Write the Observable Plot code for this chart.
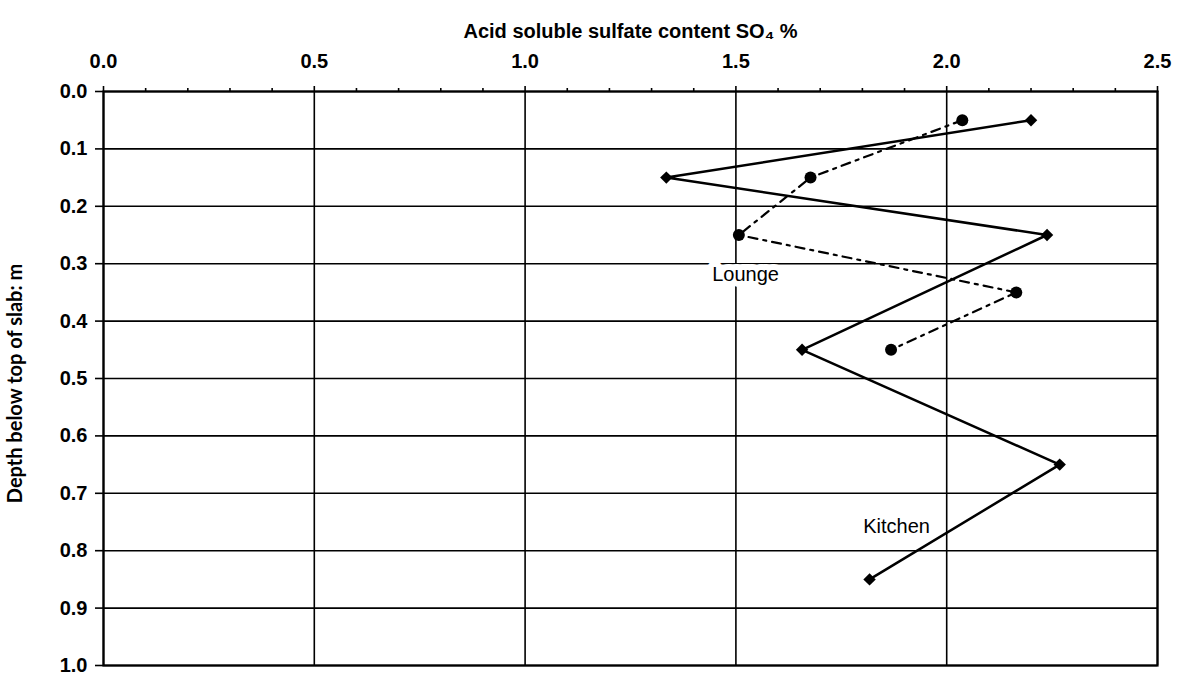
<!DOCTYPE html>
<html>
<head>
<meta charset="utf-8">
<script src="https://cdn.jsdelivr.net/npm/d3@7"></script>
<script src="https://cdn.jsdelivr.net/npm/@observablehq/plot@0.6"></script>
<style>
  html, body { margin: 0; padding: 0; background: #fff; }
  svg { overflow: visible; }
</style>
</head>
<body>
<div id="chart"></div>
<script>
// Kitchen (solid line, diamonds)
const kitchenDepth = [0.05, 0.15, 0.25, 0.45, 0.65, 0.85];
const kitchenSulfate = [2.20, 1.335, 2.238, 1.657, 2.268, 1.817];
// Lounge (dashed line, circles)
const loungeDepth = [0.05, 0.15, 0.25, 0.35, 0.45];
const loungeSulfate = [2.037, 1.677, 1.507, 2.165, 1.868];

// Ticks
const xMajorTicks = [0.0, 0.5, 1.0, 1.5, 2.0, 2.5];
const xMinorTicks = [0.1, 0.2, 0.3, 0.4, 0.6, 0.7, 0.8, 0.9, 1.1, 1.2, 1.3, 1.4, 1.6, 1.7, 1.8, 1.9, 2.1, 2.2, 2.3, 2.4];
const yTicks = [0.0, 0.1, 0.2, 0.3, 0.4, 0.5, 0.6, 0.7, 0.8, 0.9, 1.0];

// Texts
const xTitle = "Acid soluble sulfate content SO\u2084 %";
const yTitle = "Depth below top of slab: m";
const seriesLabels = ["Lounge", "Kitchen"];
const labelSulfate = [1.523, 1.881];
const labelDepth = [0.319, 0.758];

const kitchen = kitchenDepth.map((d, i) => ({depth: d, sulfate: kitchenSulfate[i]}));
const lounge = loungeDepth.map((d, i) => ({depth: d, sulfate: loungeSulfate[i]}));
const labels = seriesLabels.map((t, i) => ({text: t, sulfate: labelSulfate[i], depth: labelDepth[i]}));

const fmt = d3.format(".1f");

const chart = Plot.plot({
  width: 1178,
  height: 673,
  marginLeft: 103,
  marginRight: 21,
  marginTop: 91,
  marginBottom: 8,
  style: {fontFamily: "'Liberation Sans', Arial, sans-serif", fontSize: "20px", color: "#000", background: "#fff"},
  x: {domain: [0, 2.5]},
  y: {domain: [0, 1], reverse: true},
  marks: [
    Plot.gridX(xMajorTicks, {stroke: "#000", strokeOpacity: 1, strokeWidth: 1.6}),
    Plot.gridY(yTicks, {stroke: "#000", strokeOpacity: 1, strokeWidth: 1.6}),
    Plot.frame({stroke: "#000", strokeWidth: 2.2}),
    Plot.axisX(xMinorTicks, {anchor: "top", tickSize: 4, strokeWidth: 1.6, text: null, label: null}),
    Plot.axisX(xMajorTicks, {anchor: "top", tickSize: 6, tickPadding: 18, strokeWidth: 1.6, tickFormat: fmt, fontWeight: "bold", fontSize: 20, label: null}),
    Plot.axisY(yTicks, {anchor: "left", tickSize: 8, tickPadding: 8, strokeWidth: 1.6, tickFormat: fmt, fontWeight: "bold", fontSize: 20, label: null}),
    Plot.line(lounge, {x: "sulfate", y: "depth", stroke: "#000", strokeWidth: 2.2, strokeDasharray: "9,6,3,6"}),
    Plot.line(kitchen, {x: "sulfate", y: "depth", stroke: "#000", strokeWidth: 2.5}),
    Plot.dot(lounge, {x: "sulfate", y: "depth", r: 6, fill: "#000", symbol: "circle"}),
    Plot.dot(kitchen, {x: "sulfate", y: "depth", r: 5.6, fill: "#000", symbol: "diamond2"}),
    Plot.text(labels, {x: "sulfate", y: "depth", text: "text", fontSize: 20, fill: "#000", stroke: "#fff", strokeWidth: 12, paintOrder: "stroke"}),
    Plot.text([xTitle], {frameAnchor: "top", dy: -68, fontSize: 20, fontWeight: "bold", fill: "#000"}),
    Plot.text([yTitle], {frameAnchor: "left", textAnchor: "middle", dx: -88, dy: 5, rotate: -90, fontSize: 20, fontWeight: "bold", fill: "#000", fontFamily: "Lato, 'Open Sans', sans-serif"})
  ]
});

document.getElementById("chart").appendChild(chart);
</script>
</body>
</html>
